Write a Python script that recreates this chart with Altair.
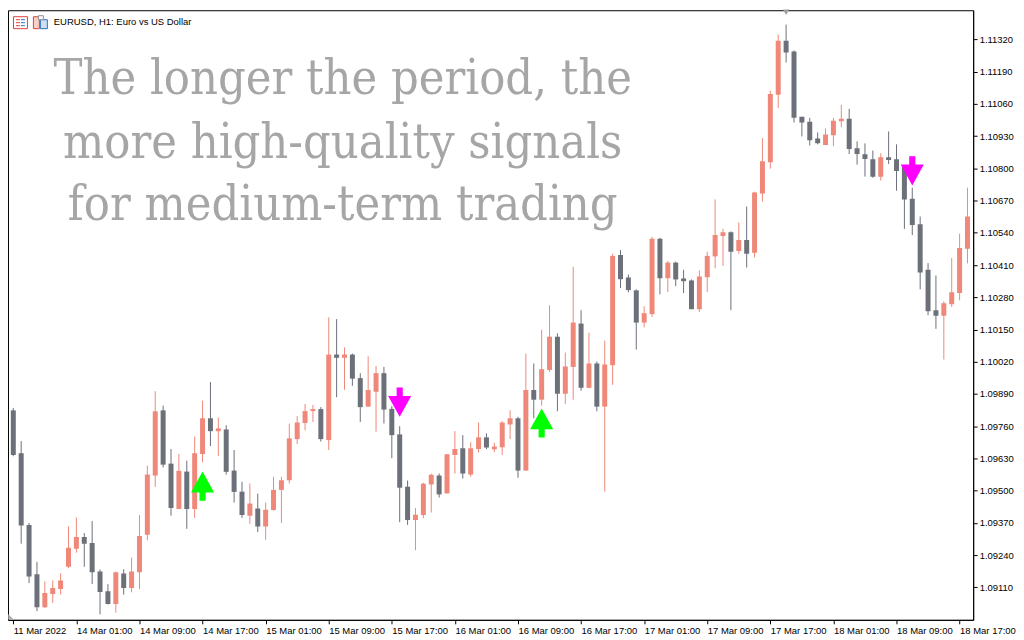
import altair as alt
import pandas as pd

# ---- data (EURUSD H1, 122 bars) ----
open_ = [1.09824,1.09651,1.09362,1.09163,1.09030,1.09083,1.09103,1.09193,1.09266,1.09313,
         1.09289,1.09174,1.09094,1.09043,1.09166,1.09107,1.09171,1.09322,1.09561,1.09824,
         1.09609,1.09426,1.09577,1.09426,1.09648,1.09792,1.09740,1.09747,1.09581,1.09496,
         1.09399,1.09428,1.09355,1.09422,1.09503,1.09542,1.09708,1.09773,1.09821,1.09829,
         1.09704,1.10049,1.10036,1.10049,1.09954,1.09839,1.09899,1.09974,1.09830,1.09727,
         1.09516,1.09382,1.09402,1.09525,1.09561,1.09489,1.09644,1.09671,1.09565,1.09668,
         1.09715,1.09667,1.09675,1.09767,1.09792,1.09581,1.09906,1.09867,1.09987,1.10121,
         1.09891,1.09999,1.10174,1.09915,1.10013,1.09839,1.10006,1.10451,1.10360,1.10308,
         1.10178,1.10212,1.10516,1.10357,1.10420,1.10356,1.10348,1.10232,1.10361,1.10445,
         1.10527,1.10542,1.10467,1.10511,1.10460,1.10699,1.10825,1.11097,1.11315,1.11272,
         1.11008,1.10988,1.10921,1.10894,1.10934,1.10990,1.11000,1.10881,1.10857,1.10837,
         1.10766,1.10845,1.10837,1.10808,1.10678,1.10575,1.10391,1.10228,1.10206,1.10252,
         1.10297,1.10476]
high = [1.09834,1.09700,1.09370,1.09213,1.09134,1.09138,1.09167,1.09356,1.09392,1.09329,
        1.09377,1.09182,1.09123,1.09174,1.09183,1.09230,1.09402,1.09601,1.09901,1.09843,
        1.09668,1.09648,1.09621,1.09718,1.09863,1.09938,1.09795,1.09764,1.09664,1.09536,
        1.09529,1.09488,1.09452,1.09556,1.09556,1.09771,1.09801,1.09850,1.09846,1.09837,
        1.10199,1.10192,1.10078,1.10053,1.09974,1.10042,1.10003,1.09999,1.09841,1.09760,
        1.09541,1.09430,1.09532,1.09569,1.09569,1.09647,1.09740,1.09724,1.09695,1.09775,
        1.09731,1.09694,1.09780,1.09824,1.09798,1.10053,1.10013,1.10149,1.10248,1.10135,
        1.10057,1.10403,1.10228,1.10137,1.10021,1.10105,1.10456,1.10471,1.10372,1.10312,
        1.10244,1.10524,1.10520,1.10427,1.10424,1.10391,1.10352,1.10388,1.10464,1.10675,
        1.10556,1.10546,1.10582,1.10646,1.10706,1.10922,1.11113,1.11340,1.11380,1.11276,
        1.11008,1.11004,1.10945,1.10961,1.11004,1.11056,1.11040,1.10909,1.10901,1.10872,
        1.10861,1.10949,1.10897,1.10812,1.10722,1.10606,1.10418,1.10368,1.10264,1.10439,
        1.10537,1.10722]
low = [1.09639,1.09286,1.09127,1.09014,1.09027,1.09047,1.09081,1.09187,1.09250,1.09193,
       1.09123,1.09001,1.09041,1.09008,1.09081,1.09090,1.09103,1.09300,1.09515,1.09594,
       1.09399,1.09426,1.09346,1.09390,1.09614,1.09680,1.09640,1.09565,1.09452,1.09390,
       1.09366,1.09333,1.09302,1.09419,1.09370,1.09529,1.09688,1.09744,1.09777,1.09698,
       1.09664,1.09877,1.09907,1.09923,1.09777,1.09839,1.09738,1.09771,1.09631,1.09373,
       1.09362,1.09260,1.09389,1.09412,1.09472,1.09489,1.09569,1.09549,1.09556,1.09654,
       1.09668,1.09655,1.09644,1.09708,1.09552,1.09581,1.09792,1.09843,1.09979,1.09820,
       1.09850,1.09867,1.09903,1.09913,1.09820,1.09496,1.09927,1.10317,1.10300,1.10069,
       1.10159,1.10201,1.10292,1.10301,1.10325,1.10297,1.10232,1.10221,1.10301,1.10397,
       1.10407,1.10228,1.10456,1.10400,1.10441,1.10666,1.10799,1.11044,1.11227,1.10985,
       1.10929,1.10892,1.10897,1.10894,1.10889,1.10966,1.10858,1.10815,1.10767,1.10762,
       1.10751,1.10818,1.10710,1.10556,1.10531,1.10312,1.10208,1.10153,1.10029,1.10241,
       1.10268,1.10417]
close = [1.09644,1.09359,1.09154,1.09030,1.09087,1.09107,1.09138,1.09270,1.09313,1.09286,
         1.09171,1.09091,1.09043,1.09171,1.09107,1.09174,1.09317,1.09565,1.09820,1.09605,
         1.09430,1.09580,1.09426,1.09651,1.09792,1.09740,1.09751,1.09576,1.09495,1.09402,
         1.09448,1.09355,1.09423,1.09503,1.09542,1.09711,1.09775,1.09821,1.09829,1.09708,
         1.10049,1.10036,1.10049,1.09952,1.09837,1.09906,1.09974,1.09827,1.09724,1.09512,
         1.09382,1.09403,1.09528,1.09564,1.09485,1.09647,1.09668,1.09569,1.09671,1.09715,
         1.09674,1.09678,1.09775,1.09792,1.09581,1.09906,1.09867,1.09990,1.10121,1.09891,
         1.10001,1.10178,1.09915,1.10013,1.09839,1.10009,1.10447,1.10353,1.10309,1.10178,
         1.10216,1.10516,1.10357,1.10420,1.10352,1.10345,1.10232,1.10364,1.10447,1.10531,
         1.10542,1.10464,1.10511,1.10456,1.10703,1.10829,1.11100,1.11315,1.11268,1.11004,
         1.10985,1.10914,1.10901,1.10937,1.10992,1.11000,1.10878,1.10858,1.10838,1.10766,
         1.10845,1.10834,1.10790,1.10675,1.10572,1.10380,1.10224,1.10206,1.10256,1.10300,
         1.10479,1.10606]

time_tick_bars = [0, 8, 16, 24, 32, 40, 48, 56, 64, 72, 80, 88, 96, 104, 112, 120]
time_tick_labels = ["11 Mar 2022", "14 Mar 01:00", "14 Mar 09:00", "14 Mar 17:00",
                    "15 Mar 01:00", "15 Mar 09:00", "15 Mar 17:00", "16 Mar 01:00",
                    "16 Mar 09:00", "16 Mar 17:00", "17 Mar 01:00", "17 Mar 09:00",
                    "17 Mar 17:00", "18 Mar 01:00", "18 Mar 09:00", "18 Mar 17:00"]
price_ticks = [1.09110, 1.09240, 1.09370, 1.09500, 1.09630, 1.09760, 1.09890, 1.10020,
               1.10150, 1.10280, 1.10410, 1.10540, 1.10670, 1.10800, 1.10930, 1.11060,
               1.11190, 1.11320]

signal_bar = [24, 67, 49, 114]
signal_price = [1.09518, 1.09773, 1.09857, 1.10790]
signal_kind = ["buy", "buy", "sell", "sell"]

header_text = "EURUSD, H1:  Euro vs US Dollar"
overlay_lines = ["The longer the period, the", "more high-quality signals", "for medium-term trading"]

# ---- build tables ----
df = pd.DataFrame({"idx": list(range(len(open_))), "open": open_, "high": high,
                   "low": low, "close": close})
df["dir"] = ["up" if c >= o else "down" for o, c in zip(open_, close)]
sig = pd.DataFrame({"idx": signal_bar, "price": signal_price, "kind": signal_kind})
marker = pd.DataFrame({"idx": [int(df["high"].idxmax())]})
one = pd.DataFrame({"k": [0]})

W, H = 969, 612
BULL, BEAR = "#ef8878", "#6b7079"
FONT = "Liberation Sans"

label_map = "{" + ",".join(f"'{b}':'{t}'" for b, t in zip(time_tick_bars, time_tick_labels)) + "}"

xscale = alt.Scale(domain=[-0.04, 121.09], nice=False, zero=False)
yscale = alt.Scale(domain=[1.08979, 1.11438], nice=False, zero=False)

xenc = alt.X("idx:Q", scale=xscale, axis=alt.Axis(
    values=time_tick_bars, tickCount=40, labelExpr=f"{label_map}[datum.value]", title=None,
    grid=False, domainColor="black", tickColor="black", tickSize=4, labelAlign="left",
    labelPadding=2, labelFont=FONT, labelFontSize=9.5, labelColor="black",
    labelOverlap=False, labelBound=False, labelFlush=False, domainWidth=1))
yenc = alt.Y("low:Q", scale=yscale, axis=alt.Axis(
    values=price_ticks, tickCount=40, format=".5f", orient="right", title=None, grid=False,
    domainColor="black", tickColor="black", tickSize=4, labelPadding=2,
    labelFont=FONT, labelFontSize=9.5, labelColor="black",
    labelOverlap=False, labelBound=False, labelFlush=False))

color = alt.Color("dir:N", scale=alt.Scale(domain=["up", "down"], range=[BULL, BEAR]), legend=None)

base = alt.Chart(df)
wicks = base.mark_rule(strokeWidth=1, clip=True).encode(
    x=xenc, y=yenc, y2="high:Q", color=color)
bodies = base.mark_bar(size=5, clip=True).encode(
    x="idx:Q", y="open:Q", y2="close:Q", color=color)

up_path = "M0,-1L0.79,0.43L0.21,0.43L0.21,1L-0.21,1L-0.21,0.43L-0.79,0.43Z"
down_path = "M0,1L0.79,-0.43L0.21,-0.43L0.21,-1L-0.21,-1L-0.21,-0.43L-0.79,-0.43Z"
buys = alt.Chart(sig).transform_filter(alt.datum.kind == "buy").mark_point(
    shape=up_path, size=860, filled=True, opacity=1, color="#00ff00", strokeWidth=0).encode(
    x="idx:Q", y="price:Q")
sells = alt.Chart(sig).transform_filter(alt.datum.kind == "sell").mark_point(
    shape=down_path, size=860, filled=True, opacity=1, color="#ff00ff", strokeWidth=0).encode(
    x="idx:Q", y="price:Q")

top_marker = alt.Chart(marker).mark_point(shape="triangle-down", size=40, filled=True,
                                          opacity=1, color="#a0a0a0", strokeWidth=0).encode(
    x="idx:Q", y=alt.value(2))
corner_marker = alt.Chart(one).mark_point(shape="M-1,-1L1,1L-1,1Z", size=30, filled=True,
                                          opacity=1, color="#b0b0b0", strokeWidth=0).encode(
    x=alt.value(3), y=alt.value(H - 3))

hdr = alt.Chart(pd.DataFrame({"t": [header_text]})).mark_text(
    align="left", baseline="middle", font=FONT, fontSize=9.5, color="black").encode(
    text="t:N", x=alt.value(46), y=alt.value(12))


def icon_rect(x1, x2, y1, y2, stroke=None, fill=None):
    kw = {"strokeWidth": 1}
    if stroke:
        kw["stroke"] = stroke
    kw["fill"] = fill if fill else "white"
    return alt.Chart(one).mark_rect(**kw).encode(
        x=alt.value(x1), x2=alt.value(x2), y=alt.value(y1), y2=alt.value(y2))


RED, BLUE = "#e0403a", "#2a6fc0"
icons = [
    icon_rect(5.5, 19.5, 6.5, 18.5, stroke=RED),
    icon_rect(8, 12, 9, 10, fill=RED), icon_rect(8, 12, 12, 13, fill=RED),
    icon_rect(8, 12, 15, 16, fill=RED),
    icon_rect(13, 17, 9, 10, fill=BLUE), icon_rect(13, 17, 12, 13, fill=BLUE),
    icon_rect(13, 17, 15, 16, fill=BLUE),
    icon_rect(25.5, 31.5, 6.5, 18.5, stroke=RED, fill="#f6d0c8"),
    icon_rect(32.5, 39.5, 9.5, 18.5, stroke=BLUE, fill="#cfe0f5"),
    icon_rect(30.5, 35.5, 5.5, 9.5, stroke="#909090"),
]

overlay_layers = []
for line_text, ybase in zip(overlay_lines, [84, 148, 211]):
    overlay_layers.append(
        alt.Chart(pd.DataFrame({"t": [line_text]})).mark_text(
            align="center", baseline="alphabetic",
            font="DejaVu Serif Condensed, DejaVu Serif",
            fontSize=48.5, color="#a6a6a6").encode(
            text="t:N", x=alt.value(336), y=alt.value(ybase)))

chart = alt.layer(wicks, bodies, buys, sells, top_marker, corner_marker, hdr, *icons,
                  *overlay_layers).properties(
    width=W, height=H, padding=0, background="white").configure_view(
    stroke="black", strokeWidth=1).configure_axis(labelOverlap=False)

chart.save("out.html", embed_options={"renderer": "svg", "actions": False})
